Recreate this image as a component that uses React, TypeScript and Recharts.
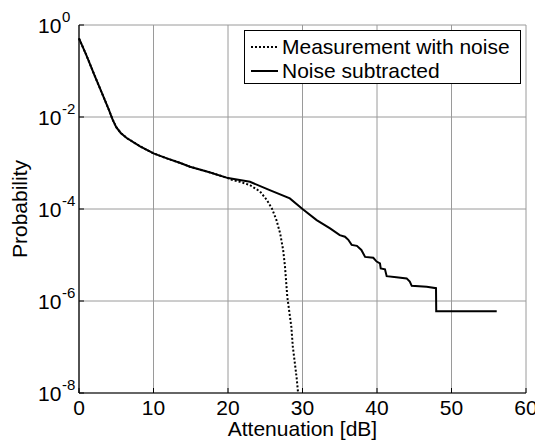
import React from "react";
import { CartesianGrid, Line, LineChart, XAxis, YAxis } from "recharts";

// shared part of both curves (0..20 dB, they coincide)
const commonAtten = [0, 1, 2, 3, 4, 4.5, 5, 5.6, 6.4, 8.2, 9.5, 10, 11.8, 13.6, 14.9, 17.5, 20];
const commonProb = [
  0.51, 0.219, 0.087, 0.0355, 0.0145, 0.0089, 0.006, 0.0045, 0.0035, 0.0023, 0.00178, 0.00162, 0.00126,
  0.001, 0.00083, 0.00063, 0.00047,
];

const noisyAtten = [20.5, 21.6, 22.95, 24.3, 25.2, 25.9, 26.5, 27.0, 27.4, 27.65, 27.96, 28.5, 28.7, 29.2, 29.5];
const noisyProb = [
  4.3e-4, 3.9e-4, 3.3e-4, 2.4e-4, 1.58e-4, 1.02e-4, 5.75e-5, 2.95e-5, 1.29e-5, 5.6e-6, 1.23e-6, 2.75e-7,
  1.02e-7, 2.24e-8, 7e-9,
];

const subtractedAtten = [
  22.95, 25.6, 28.3, 30, 31.9, 33.7, 35.0, 35.7, 36.15, 36.6, 37.3, 37.9, 38.4, 39.5, 39.95, 40.4, 40.5,
  41.07, 41.3, 42.6, 43.98, 44.4, 44.66, 46.67, 47.92, 47.95, 56.07,
];
const subtractedProb = [
  3.9e-4, 2.57e-4, 1.7e-4, 1e-4, 5.75e-5, 3.8e-5, 2.7e-5, 2.5e-5, 2.14e-5, 1.66e-5, 1.58e-5, 1.29e-5,
  9.1e-6, 8.7e-6, 7.2e-6, 6.6e-6, 5.1e-6, 4.9e-6, 3.47e-6, 3.3e-6, 3.1e-6, 2.63e-6, 2.14e-6, 2.04e-6,
  1.9e-6, 6e-7, 6e-7,
];

const xTicks = [0, 10, 20, 30, 40, 50, 60];
const yTicks = [1e-8, 1e-6, 1e-4, 1e-2, 1];

const zip = (xs: number[], ys: number[]) => xs.map((x, i) => ({ x, p: ys[i] }));
const noisyData = zip([...commonAtten, ...noisyAtten], [...commonProb, ...noisyProb]);
const subtractedData = zip([...commonAtten, ...subtractedAtten], [...commonProb, ...subtractedProb]);

const FONT = "'Liberation Sans', Arial, Helvetica, sans-serif";
const TICK_LEN = 5;

const XTick = ({ x, y, payload }: any) => (
  <g>
    <line x1={x} x2={x} y1={y} y2={y - TICK_LEN} stroke="#000" />
    <text x={x} y={y + 22} textAnchor="middle" fontSize={21} fill="#000">
      {payload.value}
    </text>
  </g>
);

const XTopTick = ({ x, y }: any) => <line x1={x} x2={x} y1={y} y2={y + TICK_LEN} stroke="#000" />;

const YTick = ({ x, y, payload }: any) => {
  const exp = Math.round(Math.log10(payload.value));
  return (
    <g>
      <line x1={x} x2={x + TICK_LEN} y1={y} y2={y} stroke="#000" />
      <text x={x - 41} y={y + 8} fontSize={21} fill="#000">
        10
      </text>
      <text x={x - 17} y={y - 3} fontSize={15} fill="#000">
        {exp}
      </text>
    </g>
  );
};

const YRightTick = ({ x, y }: any) => <line x1={x} x2={x - TICK_LEN} y1={y} y2={y} stroke="#000" />;

const YLabel = ({ viewBox }: any) => {
  const cx = (viewBox?.x ?? 0) + 27;
  const cy = (viewBox?.y ?? 25) + (viewBox?.height ?? 368) / 2;
  return (
    <text
      transform={`translate(${cx},${cy}) rotate(-90)`}
      textAnchor="middle"
      fontSize={21}
      fill="#000"
    >
      Probability
    </text>
  );
};

const LegendRow = ({ dash, label }: { dash?: string; label: string }) => (
  <div style={{ display: "flex", alignItems: "center", height: 24 }}>
    <svg width={37} height={24} style={{ display: "block" }}>
      <line x1={6} x2={33} y1={12} y2={12} stroke="#000" strokeWidth={2} strokeDasharray={dash} />
    </svg>
    <span style={{ fontSize: 21, lineHeight: "24px", whiteSpace: "nowrap" }}>{label}</span>
  </div>
);

export default function App() {
  return (
    <div style={{ marginLeft: -8, marginTop: -8, position: "relative", width: 543, height: 442, fontFamily: FONT, background: "#fff" }}>
      <LineChart width={543} height={442} margin={{ top: 25, right: 17, bottom: 0, left: 0 }}>
        <CartesianGrid stroke="#9a9a9a" strokeWidth={1} />
        <XAxis
          dataKey="x"
          type="number"
          domain={[0, 60]}
          ticks={xTicks}
          height={49}
          tickSize={0}
          tickMargin={0}
          tickLine={false}
          axisLine={{ stroke: "#000", strokeWidth: 1.2 }}
          tick={<XTick />}
          label={{ value: "Attenuation [dB]", position: "insideBottom", offset: 6, fontSize: 21, fill: "#000" }}
        />
        <XAxis
          xAxisId="top"
          orientation="top"
          dataKey="x"
          type="number"
          domain={[0, 60]}
          ticks={xTicks}
          height={0}
          tickSize={0}
          tickMargin={0}
          tickLine={false}
          axisLine={{ stroke: "#000", strokeWidth: 1.2 }}
          tick={<XTopTick />}
        />
        <YAxis
          scale="log"
          domain={[1e-8, 1]}
          allowDataOverflow
          ticks={yTicks}
          width={79}
          tickSize={0}
          tickMargin={0}
          tickLine={false}
          axisLine={{ stroke: "#000", strokeWidth: 1.2 }}
          tick={<YTick />}
          label={<YLabel />}
        />
        <YAxis
          yAxisId="right"
          orientation="right"
          scale="log"
          domain={[1e-8, 1]}
          allowDataOverflow
          ticks={yTicks}
          width={0}
          tickSize={0}
          tickMargin={0}
          tickLine={false}
          axisLine={{ stroke: "#000", strokeWidth: 1.2 }}
          tick={<YRightTick />}
        />
        <Line
          data={noisyData}
          dataKey="p"
          type="linear"
          stroke="#000"
          strokeWidth={2}
          strokeDasharray="2 2"
          dot={false}
          isAnimationActive={false}
        />
        <Line
          data={subtractedData}
          dataKey="p"
          type="linear"
          stroke="#000"
          strokeWidth={2}
          dot={false}
          isAnimationActive={false}
        />
      </LineChart>
      <div
        style={{
          position: "absolute",
          left: 244,
          top: 30,
          width: 277,
          height: 54,
          border: "1px solid #000",
          background: "#fff",
          paddingTop: 4,
          boxSizing: "border-box",
        }}
      >
        <LegendRow dash="2 2" label="Measurement with noise" />
        <LegendRow label="Noise subtracted" />
      </div>
    </div>
  );
}
